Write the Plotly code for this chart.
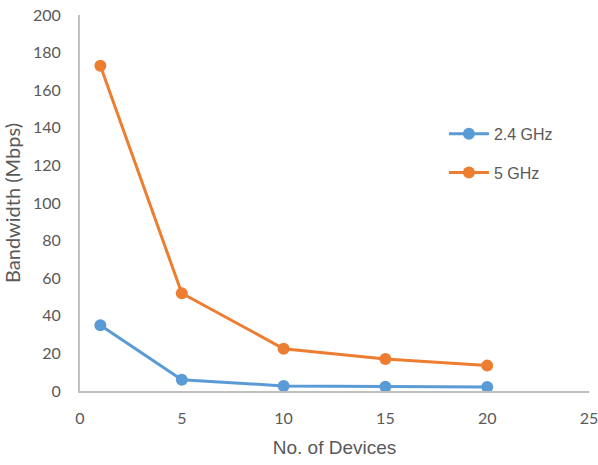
import plotly.graph_objects as go

# Number of connected devices
devices = [1, 5, 10, 15, 20]

# Measured bandwidth per band (Mbps)
bw_24ghz = [35, 6, 2.7, 2.3, 2.1]
bw_5ghz = [173, 52, 22.5, 17, 13.5]

series_names = ["2.4 GHz", "5 GHz"]
series_colors = ["#5B9BD5", "#ED7D31"]

x_ticks = [0, 5, 10, 15, 20, 25]
y_ticks = [0, 20, 40, 60, 80, 100, 120, 140, 160, 180, 200]

fig = go.Figure()
for name, vals, color in zip(series_names, [bw_24ghz, bw_5ghz], series_colors):
    fig.add_trace(go.Scatter(
        x=devices, y=vals, name=name, legendgroup=name, mode="lines+markers",
        line=dict(color=color, width=3),
        marker=dict(color=color, size=12),
    ))

tick_font = dict(family="Lato, Open Sans, sans-serif", size=16, color="#595959")
narrow = "Liberation Sans Narrow, Arial Narrow, sans-serif"

fig.update_layout(
    width=598, height=465,
    margin=dict(l=80, r=9, t=15, b=74, autoexpand=False),
    paper_bgcolor="white", plot_bgcolor="white",
    showlegend=True,
    legend=dict(
        x=0.715, y=0.632, xanchor="left", yanchor="middle",
        font=dict(family=narrow, size=16, color="#595959"),
        traceorder="grouped", tracegroupgap=15, itemwidth=40,
        bgcolor="rgba(0,0,0,0)",
    ),
    xaxis=dict(
        range=[0, 25], tickvals=x_ticks, showgrid=False, zeroline=False,
        showline=True, linecolor="#BFBFBF", linewidth=2,
        tickfont=tick_font, ticks="", ticklabelstandoff=12,
        ticklabeloverflow="allow", automargin=False,
        title=dict(text="No. of Devices", standoff=14,
                   font=dict(family=narrow, size=19, color="#595959")),
    ),
    yaxis=dict(
        range=[0, 200], tickvals=y_ticks, showgrid=False, zeroline=False,
        showline=True, linecolor="#BFBFBF", linewidth=2,
        tickfont=tick_font, ticks="", ticklabelstandoff=14,
        ticklabeloverflow="allow", automargin=False,
        title=dict(text="Bandwidth (Mbps)", standoff=15,
                   font=dict(family="Lato, Open Sans, sans-serif", size=20, color="#595959")),
    ),
)

fig.write_html("out.html")
